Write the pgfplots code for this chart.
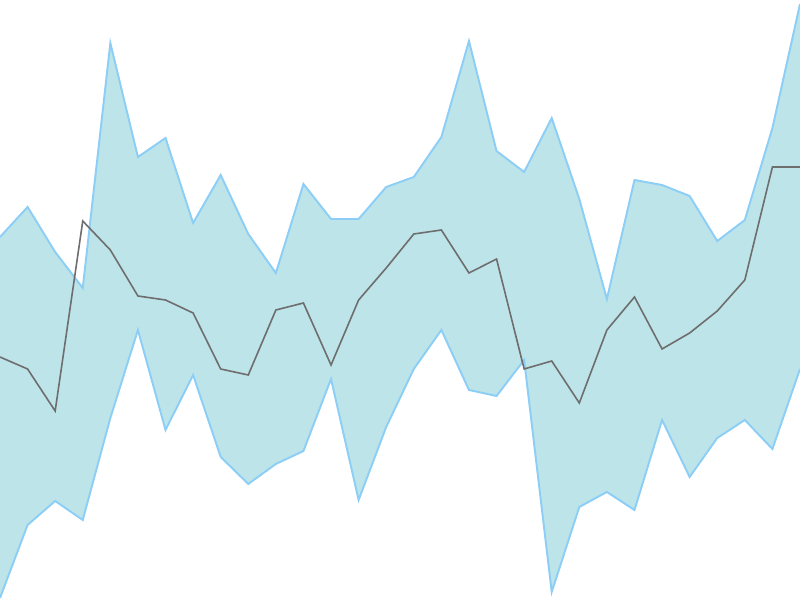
\documentclass[border=0pt]{standalone}
\usepackage{pgfplots}
\pgfplotsset{compat=1.18}
\usepgfplotslibrary{fillbetween}
\definecolor{bandfill}{RGB}{189,228,233}
\definecolor{bandline}{RGB}{140,206,246}
\definecolor{midline}{RGB}{110,110,110}

\pgfplotstableread{
x upper lower mid
0  363 2   243
1  393 75  231
2  348 99  189
3  312 80  379
4  557 182 350
5  443 270 304
6  462 170 300
7  377 225 287
8  425 143 231
9  366 116 225
10 327 136 290
11 416 149 297
12 381 221 235
13 381 100 300
14 413 173 332
15 423 231 366
16 463 270 370
17 559 210 327
18 449 204 341
19 428 240 231
20 482 8   239
21 401 93  197
22 301 108 270
23 420 90  303
24 415 180 251
25 404 123 267
26 359 162 289
27 380 180 320
28 472 151 433
29 596 231 433
}\band

\begin{document}
\begin{tikzpicture}
\begin{axis}[
  hide axis,
  scale only axis,
  width=600pt, height=450pt,
  xmin=0, xmax=29,
  ymin=0, ymax=600,
  clip=true,
]
\addplot[draw=none, name path=U] table[x=x, y=upper] {\band};
\addplot[draw=none, name path=L] table[x=x, y=lower] {\band};
\addplot[bandfill] fill between[of=U and L];
\addplot[bandline, line width=1.45pt, mark=none] table[x=x, y=upper] {\band};
\addplot[bandline, line width=1.45pt, mark=none] table[x=x, y=lower] {\band};
\addplot[midline, line width=1.2pt, mark=none] table[x=x, y=mid] {\band};
\end{axis}
\end{tikzpicture}
\end{document}
